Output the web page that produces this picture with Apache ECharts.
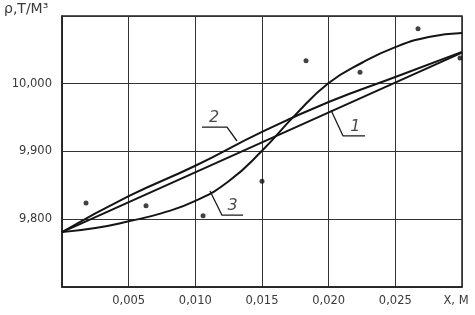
<!DOCTYPE html>
<html>
<head>
<meta charset="utf-8">
<script src="https://cdn.jsdelivr.net/npm/echarts@6/dist/echarts.min.js"></script>
<style>html,body{margin:0;padding:0;background:#fff}#c{width:475px;height:315px}</style>
</head>
<body>
<div id="c"></div>
<script>
// x in metres, density in t/m^3
var xTicks = [0, 0.005, 0.010, 0.015, 0.020, 0.025, 0.030];
var yTicks = [9.8, 9.9, 10.0];
var line1 = [[0, 9.781], [0.030, 10.046]];
var line2 = [[0, 9.781], [0.005, 9.834], [0.010, 9.879], [0.015, 9.929], [0.020, 9.973], [0.025, 10.010], [0.030, 10.047]];
var curve3 = [[0, 9.781], [0.0025, 9.787], [0.005, 9.797], [0.0075, 9.809], [0.010, 9.827], [0.0125, 9.856], [0.015, 9.901], [0.0175, 9.954], [0.020, 10.001], [0.0225, 10.031], [0.025, 10.054], [0.0275, 10.069], [0.030, 10.075]];
var points = [[0.0018, 9.824], [0.0063, 9.820], [0.01058, 9.805], [0.0150, 9.856], [0.0183, 10.034], [0.02235, 10.017], [0.0267, 10.081], [0.02985, 10.038]];
// callout leaders: curve point, knee, underline end
var leader1 = [[0.02018, 9.961], [0.02108, 9.923], [0.02273, 9.923]];
var leader2 = [[0.013125, 9.9155], [0.012375, 9.936], [0.0105, 9.936]];
var leader3 = [[0.0111, 9.8417], [0.012, 9.806], [0.01358, 9.806]];
var calloutLabels = [["1", 0.0220, 9.923], ["2", 0.0114, 9.936], ["3", 0.0128, 9.806]];

var chart = echarts.init(document.getElementById('c'));
function leaderSeries(d) {
  return {type: 'line', data: d, symbol: 'none', silent: true, z: 3,
    lineStyle: {color: '#1a1a1a', width: 1.3}};
}
var ink = '#141414';
chart.setOption({
  animation: false,
  backgroundColor: '#fff',
  grid: {left: 62, top: 16, width: 400, height: 271, show: true, borderColor: '#222', borderWidth: 1.5, backgroundColor: 'transparent'},
  xAxis: {
    type: 'value', min: 0, max: 0.03, interval: 0.005,
    axisLine: {show: true, lineStyle: {color: '#222', width: 1.5}},
    axisTick: {show: false},
    splitLine: {show: true, lineStyle: {color: '#333', width: 1}},
    axisLabel: {
      margin: 8, color: '#3a3a3a', fontFamily: 'DejaVu Sans', fontSize: 11.5,
      formatter: function (v) {
        var k = Math.round(v * 1000);
        if (k === 0) return '';
        if (k === 30) return '{x|X, М}';
        return (k / 1000).toFixed(3).replace('.', ',');
      },
      rich: {x: {fontFamily: 'DejaVu Sans', fontSize: 11.5, color: '#3a3a3a', padding: [0, 12, 0, 0]}}
    }
  },
  yAxis: {
    type: 'value', min: 9.7, max: 10.1, interval: 0.1,
    axisLine: {show: true, lineStyle: {color: '#222', width: 1.5}},
    axisTick: {show: false},
    splitLine: {show: true, lineStyle: {color: '#333', width: 1}},
    axisLabel: {
      margin: 10, color: '#3a3a3a', fontFamily: 'DejaVu Sans', fontSize: 11.5,
      formatter: function (v) {
        var k = Math.round(v * 1000);
        var found = yTicks.some(function (t) { return Math.round(t * 1000) === k; });
        if (!found) return '';
        return (k / 1000).toFixed(3).replace('.', ',');
      }
    }
  },
  graphic: [{type: 'text', left: 4, top: 2, style: {text: 'ρ,Т/М³', fontFamily: 'DejaVu Sans', fontSize: 14, fill: '#3a3a3a'}}],
  series: [
    {type: 'line', data: line1, symbol: 'none', lineStyle: {color: ink, width: 2}},
    {type: 'line', data: line2, smooth: true, symbol: 'none', lineStyle: {color: ink, width: 2}},
    {type: 'line', data: curve3, smooth: true, symbol: 'none', lineStyle: {color: ink, width: 2}},
    {type: 'scatter', data: points, symbolSize: 5, itemStyle: {color: '#111'}},
    leaderSeries(leader1), leaderSeries(leader2), leaderSeries(leader3),
    {type: 'scatter', symbolSize: 1, itemStyle: {color: 'transparent'}, silent: true,
      data: calloutLabels.map(function (c) { return {value: [c[1], c[2]], name: c[0]}; }),
      label: {show: true, position: 'top', distance: 1, formatter: '{b}', fontFamily: 'DejaVu Sans', fontStyle: 'italic', fontSize: 16, color: '#1a1a1a'}}
  ]
});
</script>
</body>
</html>
